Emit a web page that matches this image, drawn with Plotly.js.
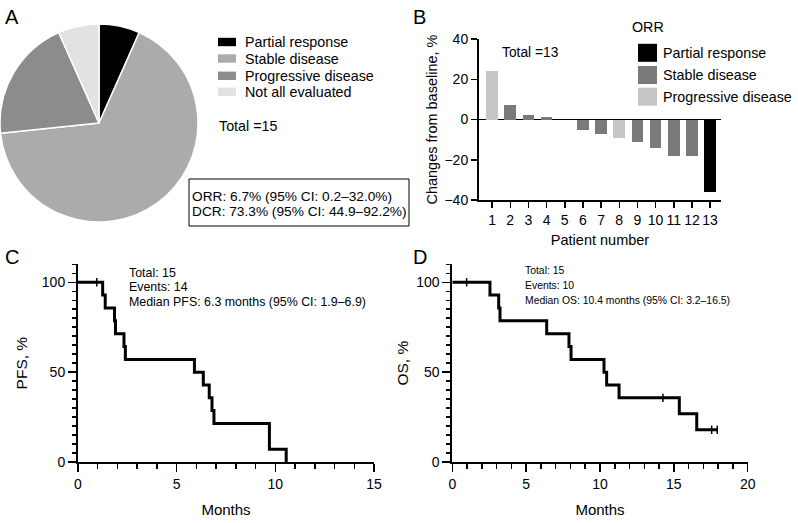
<!DOCTYPE html>
<html><head><meta charset="utf-8">
<script src="https://cdn.plot.ly/plotly-3.0.1.min.js"></script>
<style>html,body{margin:0;padding:0;background:#fff}#chart{width:798px;height:523px}</style>
</head><body><div id="chart"></div>
<script>
const W = 798, H = 523;
const FONT = 'Liberation Sans, Arial, Helvetica, sans-serif';

// ---- Panel A: best overall response (pie) ----
const responseLabels = ['Partial response', 'Stable disease', 'Progressive disease', 'Not all evaluated'];
const responseCounts = [1, 10, 3, 1];
const pieColors = ['#000000', '#ababab', '#8c8c8c', '#e2e2e2'];
const totalA = 'Total =15';
const rateLines = ['ORR: 6.7% (95% CI: 0.2–32.0%)', 'DCR: 73.3% (95% CI: 44.9–92.2%)'];

// ---- Panel B: waterfall ----
const patients = [1, 2, 3, 4, 5, 6, 7, 8, 9, 10, 11, 12, 13];
const changes = [24, 7, 2, 1, 0, -5, -7, -9, -11, -14, -18, -18, -36];
const patientResponse = ['PD', 'SD', 'SD', 'SD', 'SD', 'SD', 'SD', 'PD', 'SD', 'SD', 'SD', 'SD', 'PR'];
const orrKeys = ['PR', 'SD', 'PD'];
const orrLabels = ['Partial response', 'Stable disease', 'Progressive disease'];
const orrColors = ['#000000', '#7a7a7a', '#c6c6c6'];
const totalB = 'Total =13';
const yTicksB = [-40, -20, 0, 20, 40];

// ---- Panel C: PFS ----
const pfsTime = [0, 1.25, 1.38, 1.85, 1.9, 2.33, 2.4, 5.9, 6.35, 6.65, 6.79, 6.89, 9.7, 10.55];
const pfsSurv = [100, 92.9, 85.7, 78.6, 71.4, 64.3, 57.1, 50, 42.9, 35.7, 28.6, 21.4, 7.1, 0];
const pfsCensorTime = [0.95];
const pfsCensorSurv = [100];
const pfsNotes = ['Total: 15', 'Events: 14', 'Median PFS: 6.3 months (95% CI: 1.9–6.9)'];

// ---- Panel D: OS ----
const osTime = [0, 2.55, 3.14, 3.23, 6.39, 7.9, 8.04, 10.27, 10.45, 11.29, 15.37, 16.55, 17.94];
const osSurv = [100, 92.9, 85.7, 78.6, 71.4, 64.3, 57.1, 50, 42.9, 35.7, 26.8, 17.9, 17.9];
const osCensorTime = [0.97, 14.26, 17.56, 17.94];
const osCensorSurv = [100, 35.7, 17.9, 17.9];
const osNotes = ['Total: 15', 'Events: 10', 'Median OS: 10.4 months (95% CI: 3.2–16.5)'];

const px = v => v / W;
const py = v => 1 - v / H;

const colorOf = k => orrColors[orrKeys.indexOf(k)];

const traces = [
  {
    type: 'pie', values: responseCounts, labels: responseLabels, sort: false,
    direction: 'clockwise', rotation: 0, textinfo: 'none', hoverinfo: 'none',
    marker: {colors: pieColors, line: {color: '#ffffff', width: 1.5}},
    domain: {x: [px(0), px(198)], y: [py(222), py(24)]}, showlegend: false
  },
  {
    type: 'bar', x: patients, y: changes, width: 0.64, xaxis: 'x', yaxis: 'y',
    marker: {color: patientResponse.map(colorOf), line: {width: 0}}, showlegend: false
  },
  {
    type: 'scatter', mode: 'lines', x: pfsTime, y: pfsSurv, xaxis: 'x2', yaxis: 'y2',
    line: {shape: 'hv', color: '#000', width: 3}, showlegend: false
  },
  {
    type: 'scatter', mode: 'markers', x: pfsCensorTime, y: pfsCensorSurv, xaxis: 'x2', yaxis: 'y2',
    marker: {symbol: 'line-ns', size: 6, line: {color: '#000', width: 1.5}}, cliponaxis: false, showlegend: false
  },
  {
    type: 'scatter', mode: 'lines', x: osTime, y: osSurv, xaxis: 'x3', yaxis: 'y3',
    line: {shape: 'hv', color: '#000', width: 3}, showlegend: false
  },
  {
    type: 'scatter', mode: 'markers', x: osCensorTime, y: osCensorSurv, xaxis: 'x3', yaxis: 'y3',
    marker: {symbol: 'line-ns', size: 6, line: {color: '#000', width: 1.5}}, cliponaxis: false, showlegend: false
  }
];

const axBase = {
  showgrid: false, showline: true, linecolor: '#000', linewidth: 2, zeroline: false,
  ticks: 'outside', tickcolor: '#000', tickwidth: 1.5, tickfont: {size: 14, color: '#000'},
  fixedrange: true, automargin: false
};

const shapes = [];
const annotations = [];
function ann(text, x, y, size, opts) {
  annotations.push(Object.assign({
    text: text, xref: 'paper', yref: 'paper', x: px(x), y: py(y), xanchor: 'left', yanchor: 'middle',
    showarrow: false, font: {size: size, color: '#000', family: FONT}
  }, opts || {}));
}

// Panel letters
ann('A', 3, 17, 20);
ann('B', 411, 17, 20);
ann('C', 3, 257, 20);
ann('D', 411, 257, 20);

// Legend A
const legARows = [42, 58.5, 75.8, 91.8];
responseLabels.forEach((lab, i) => {
  shapes.push({type: 'rect', xref: 'paper', yref: 'paper', x0: px(218), x1: px(236),
    y0: py(legARows[i] - 4.2), y1: py(legARows[i] + 4.2), fillcolor: pieColors[i], line: {width: 0}});
  ann(lab, 243, legARows[i], 14.3);
});
ann(totalA, 217, 126, 14.3);
// Rate box
shapes.push({type: 'rect', xref: 'paper', yref: 'paper', x0: px(189), x1: px(409), y0: py(226), y1: py(179),
  line: {color: '#000', width: 1}, fillcolor: 'rgba(0,0,0,0)'});
ann(rateLines[0], 189.5, 196, 13.7);
ann(rateLines[1], 189.5, 212, 13.7);

// Legend B
ann('ORR', 630, 27.5, 14.3);
const legBRows = [52.8, 75, 96.7];
orrLabels.forEach((lab, i) => {
  shapes.push({type: 'rect', xref: 'paper', yref: 'paper', x0: px(638), x1: px(657),
    y0: py(legBRows[i] - 9), y1: py(legBRows[i] + 9), fillcolor: orrColors[i], line: {width: 0}});
  ann(lab, 661, legBRows[i], 14.3);
});
ann(totalB, 500, 52.7, 13.8);

// KM notes
pfsNotes.forEach((t, i) => ann(t, 127, 273 + i * 14.4, 12.4));
osNotes.forEach((t, i) => ann(t, 522.5, 270.7 + i * 14.7, 10.4));

const layout = {
  width: W, height: H, margin: {l: 0, r: 0, t: 0, b: 0},
  paper_bgcolor: '#fff', plot_bgcolor: 'rgba(0,0,0,0)',
  font: {family: FONT, color: '#000'}, showlegend: false, hovermode: false,
  bargap: 0,
  xaxis: Object.assign({}, axBase, {
    domain: [px(479), px(721)], range: [0.28, 13.6], anchor: 'y',
    tickmode: 'array', tickvals: patients, ticktext: patients.map(String), ticklen: 6,
    title: {text: 'Patient number', font: {size: 14.5}, standoff: 8}
  }),
  yaxis: Object.assign({}, axBase, {
    domain: [py(200), py(39)], range: [-40, 40], anchor: 'x',
    tickmode: 'array', tickvals: yTicksB, ticklen: 6,
    zeroline: true, zerolinecolor: '#000', zerolinewidth: 1.5,
    title: {text: 'Changes from baseline, %', font: {size: 14.5}, standoff: 3}
  }),
  xaxis2: Object.assign({}, axBase, {
    domain: [px(78), px(374)], range: [0, 15], anchor: 'y2',
    tick0: 0, dtick: 5, ticklen: 8,
    minor: {dtick: 1, ticklen: 4.5, tickwidth: 1.5, tickcolor: '#000', ticks: 'outside'},
    title: {text: 'Months', font: {size: 15}, standoff: 14}
  }),
  yaxis2: Object.assign({}, axBase, {
    domain: [py(462), py(264.3)], range: [0, 110], anchor: 'x2',
    tick0: 0, dtick: 50, ticklen: 8,
    minor: {dtick: 5, ticklen: 4, tickwidth: 1.5, tickcolor: '#000', ticks: 'outside'},
    title: {text: 'PFS, %', font: {size: 15.5}, standoff: 10}
  }),
  xaxis3: Object.assign({}, axBase, {
    domain: [px(452.3), px(747.7)], range: [0, 20], anchor: 'y3',
    tick0: 0, dtick: 5, ticklen: 8,
    minor: {dtick: 1, ticklen: 4.5, tickwidth: 1.5, tickcolor: '#000', ticks: 'outside'},
    title: {text: 'Months', font: {size: 15}, standoff: 14}
  }),
  yaxis3: Object.assign({}, axBase, {
    domain: [py(462), py(264.3)], range: [0, 110], anchor: 'x3',
    tick0: 0, dtick: 50, ticklen: 8,
    minor: {dtick: 5, ticklen: 4, tickwidth: 1.5, tickcolor: '#000', ticks: 'outside'},
    title: {text: 'OS, %', font: {size: 15.5}, standoff: 4}
  }),
  shapes: shapes,
  annotations: annotations
};

Plotly.newPlot('chart', traces, layout, {staticPlot: true, displayModeBar: false});
</script>
</body></html>
